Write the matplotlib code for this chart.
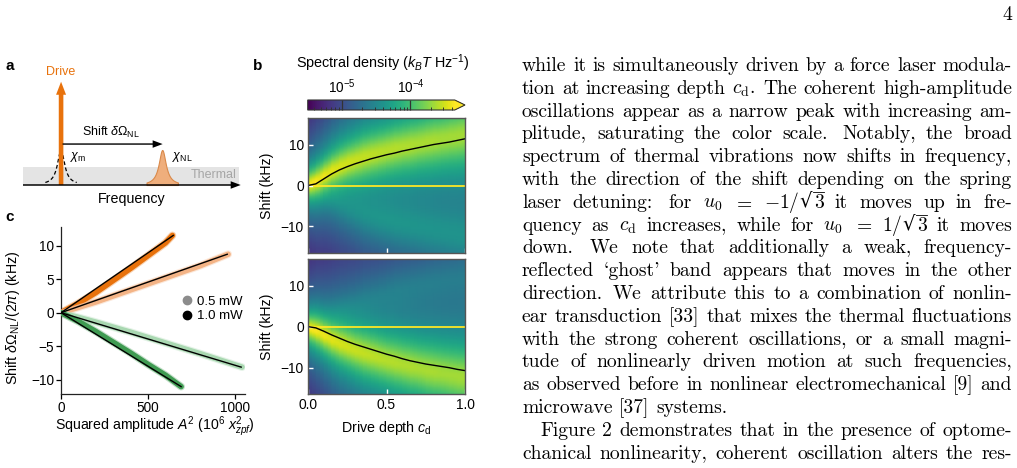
import numpy as np
import matplotlib
matplotlib.use("Agg")
import matplotlib.pyplot as plt
from matplotlib.colors import LogNorm
from matplotlib.lines import Line2D

W, H = 1017, 468
SANS = ["Liberation Sans", "DejaVu Sans"]
SERIF = ["cmr10", "DejaVu Serif"]

plt.rcParams["font.family"] = SANS
plt.rcParams["mathtext.fontset"] = "custom"
plt.rcParams["mathtext.rm"] = "Liberation Sans"
plt.rcParams["mathtext.it"] = "Liberation Sans:italic"
plt.rcParams["mathtext.bf"] = "Liberation Sans:bold"

ORANGE = "#E8720C"
LIGHT_ORANGE = "#F4B486"
GREEN = "#3F9B52"
LIGHT_GREEN = "#A9D8B1"

# ---- panel a: schematic (frequency units, peak height = 1)
DRIVE_FREQ = 1.76
NL_FREQ = 6.4
FREQ_END = 10.0
PEAK_HWHM = 0.2
PEAK_SPAN = 0.72
THERMAL_LEVEL = 0.52
THERMAL_END = 9.93
DRIVE_HEIGHT = 2.95
SHIFT_ARROW_Y = 1.17

# ---- panel b: spectral density maps vs drive depth
CD = [0.00, 0.05, 0.10, 0.15, 0.20, 0.25, 0.30, 0.35, 0.40, 0.45, 0.50,
      0.55, 0.60, 0.65, 0.70, 0.75, 0.80, 0.85, 0.90, 0.95, 1.00]
TRACK_UP = [0.0, 0.4, 1.6, 2.8, 3.8, 4.6, 5.3, 5.9, 6.5, 7.0, 7.5,
            7.9, 8.4, 8.8, 9.2, 9.6, 10.0, 10.3, 10.6, 11.0, 11.4]
TRACK_DOWN = [0.0, -0.3, -1.1, -2.0, -2.8, -3.6, -4.3, -4.9, -5.5, -6.1, -6.7,
              -7.2, -7.8, -8.3, -8.7, -9.1, -9.4, -9.7, -10.0, -10.4, -10.7]
BAND_UP = [0.3, 1.0, 2.3, 3.6, 4.6, 5.5, 6.2, 6.9, 7.5, 8.0, 8.5,
           9.0, 9.4, 9.8, 10.2, 10.6, 11.0, 11.3, 11.7, 12.0, 12.4]
BAND_DOWN = [-0.3, -0.9, -2.0, -3.1, -4.0, -4.8, -5.6, -6.3, -6.9, -7.5, -8.1,
             -8.6, -9.1, -9.6, -10.0, -10.5, -10.9, -11.2, -11.6, -12.0, -12.3]
PEAK_SD = [4.3e-4, 4.3e-4, 4.0e-4, 3.6e-4, 3.3e-4, 3.1e-4, 2.9e-4, 2.8e-4, 2.7e-4, 2.6e-4, 2.5e-4,
           2.5e-4, 2.4e-4, 2.4e-4, 2.3e-4, 2.3e-4, 2.3e-4, 2.2e-4, 2.2e-4, 2.2e-4, 2.2e-4]
HWHM = [1.6, 1.8, 2.0, 2.3, 2.6, 2.8, 3.0, 3.2, 3.3, 3.4, 3.5,
        3.6, 3.7, 3.8, 3.9, 4.0, 4.1, 4.2, 4.3, 4.4, 4.5]
GHOST_UP = [0.0, 0.2e-5, 0.6e-5, 1.0e-5, 1.4e-5, 1.8e-5, 2.1e-5, 2.4e-5, 2.6e-5, 2.8e-5, 2.9e-5,
            3.0e-5, 3.0e-5, 3.0e-5, 3.0e-5, 3.0e-5, 3.0e-5, 3.0e-5, 3.0e-5, 3.0e-5, 3.0e-5]
GHOST_DOWN = [0.0, 0.1e-5, 0.3e-5, 0.5e-5, 0.7e-5, 0.9e-5, 1.0e-5, 1.1e-5, 1.2e-5, 1.3e-5, 1.4e-5,
              1.5e-5, 1.5e-5, 1.5e-5, 1.5e-5, 1.5e-5, 1.5e-5, 1.5e-5, 1.5e-5, 1.5e-5, 1.5e-5]
BACKGROUND_SD = 3e-6
DRIVE_CD = [0.04, 1.0]
DRIVE_SHIFT = [0.0, 0.0]
SD_MIN, SD_MAX = 3.2e-6, 4.4e-4

# ---- panel c: nonlinear shift vs squared amplitude
A2_RED_HI = [0, 100, 200, 300, 400, 500, 600, 640]
SHIFT_RED_HI = [0, 1.4, 3.0, 4.8, 6.6, 8.5, 10.4, 11.5]
A2_RED_LO = [0, 100, 200, 400, 600, 800, 960]
SHIFT_RED_LO = [0, 0.8, 1.6, 3.4, 5.2, 7.0, 8.7]
A2_BLUE_LO = [0, 100, 200, 400, 600, 800, 1040]
SHIFT_BLUE_LO = [0, -0.7, -1.4, -2.9, -4.5, -6.1, -8.1]
A2_BLUE_HI = [0, 100, 200, 300, 400, 500, 600, 690]
SHIFT_BLUE_HI = [0, -1.3, -2.8, -4.4, -6.0, -7.7, -9.3, -11.0]
FIT_END_A2 = [645, 955, 1035, 690]
FIT_END_SHIFT = [11.5, 8.7, -8.1, -11.0]

# page text; "SQRT" marks a radical drawn by hand over the following digit
TEXT_LINES = [
    "while it is simultaneously driven by a force laser modula-",
    r"tion at increasing depth $c_\mathrm{d}$. The coherent high-amplitude",
    "oscillations appear as a narrow peak with increasing am-",
    "plitude, saturating the color scale. Notably, the broad",
    "spectrum of thermal vibrations now shifts in frequency,",
    "with the direction of the shift depending on the spring",
    r"laser detuning: for $u_0$ $=$ $-1/$SQRT3 it moves up in fre-",
    r"quency as $c_\mathrm{d}$ increases, while for $u_0$ $=$ $1/$SQRT3 it moves",
    "down. We note that additionally a weak, frequency-",
    "reflected `ghost' band appears that moves in the other",
    "direction. We attribute this to a combination of nonlin-",
    "ear transduction [33] that mixes the thermal fluctuations",
    "with the strong coherent oscillations, or a small magni-",
    "tude of nonlinearly driven motion at such frequencies,",
    "as observed before in nonlinear electromechanical [9] and",
    "microwave [37] systems.",
    "Figure 2 demonstrates that in the presence of optome-",
    "chanical nonlinearity, coherent oscillation alters the res-",
]
RAGGED = {15}
INDENT = {16: 18}


def fx(px):
    return px / W


def fy(py):
    return 1 - py / H


def box(left, top, right, bottom):
    return [fx(left), fy(bottom), (right - left) / W, (bottom - top) / H]


fig = plt.figure(figsize=(W / 100, H / 100), dpi=100)

for lab, x, y in [("a", 10, 66), ("b", 258, 66), ("c", 10, 217)]:
    fig.text(fx(x), fy(y), lab, fontsize=11, weight="bold", va="center", ha="center")

# ---------------- panel a
ax_a = fig.add_axes(box(22.7, 60, 245, 205))
ax_a.set_xlim(0, (245 - 22.7) / 21.8)
ax_a.set_ylim(-20 / 35, 125 / 35)
ax_a.axis("off")

ax_a.fill_between([0, THERMAL_END], 0, THERMAL_LEVEL, color="#E4E4E4", lw=0, zorder=1)
f_m = np.linspace(DRIVE_FREQ - PEAK_SPAN, DRIVE_FREQ + PEAK_SPAN, 200)
ax_a.plot(f_m, 1 / (1 + ((f_m - DRIVE_FREQ) / PEAK_HWHM) ** 2), "k--", lw=0.9,
          dashes=(3, 2), zorder=2)
f_nl = np.linspace(NL_FREQ - PEAK_SPAN, NL_FREQ + PEAK_SPAN, 200)
chi_nl = 1 / (1 + ((f_nl - NL_FREQ) / PEAK_HWHM) ** 2)
ax_a.fill_between(f_nl, 0, chi_nl, facecolor="#EFAE7C", edgecolor="#D9894A", lw=0.8, zorder=2)
ax_a.arrow(DRIVE_FREQ, 0, 0, DRIVE_HEIGHT, width=4.6 / 21.8, head_width=10 / 21.8,
           head_length=13 / 35, length_includes_head=True, color=ORANGE, lw=0, zorder=3)
ax_a.arrow(DRIVE_FREQ + 0.07, SHIFT_ARROW_Y, NL_FREQ - DRIVE_FREQ - 0.05, 0, width=1.4 / 35,
           head_width=7.5 / 35, head_length=10 / 21.8, length_includes_head=True,
           color="k", lw=0, zorder=3)
ax_a.arrow(0, 0, FREQ_END, 0, width=1.5 / 35, head_width=7.5 / 35, head_length=10 / 21.8,
           length_includes_head=True, color="k", lw=0, zorder=4)
ax_a.text(DRIVE_FREQ, 3.24, "Drive", color=ORANGE, fontsize=9, ha="center", va="center")
ax_a.text(4.05, 1.5, r"Shift $\delta\Omega_\mathrm{NL}$", fontsize=9, ha="center", va="center")
ax_a.text(2.15, 0.81, r"$\chi_\mathrm{m}$", fontsize=9, ha="left", va="center")
ax_a.text(6.83, 0.81, r"$\chi_\mathrm{NL}$", fontsize=9, ha="left", va="center")
ax_a.text(9.8, 0.29, "Thermal", color="#A6A6A6", fontsize=9, ha="right", va="center")
ax_a.text(5.0, -0.41, "Frequency", fontsize=10.3, ha="center", va="center")

# ---------------- panel b
shift_grid = np.linspace(-16.5, 16.5, 133)


def spectral_map(band, peak, hwhm, ghost):
    y = shift_grid[:, None]
    band = np.asarray(band)[None, :]
    peak = np.asarray(peak)[None, :]
    hwhm = np.asarray(hwhm)[None, :]
    ghost = np.asarray(ghost)[None, :]
    main = peak / (1 + ((y - band) / hwhm) ** 2)
    mirror = ghost / (1 + ((y + band) / (1.4 * hwhm)) ** 2)
    return BACKGROUND_SD + main + mirror


norm = LogNorm(SD_MIN, SD_MAX)
ax_b1 = fig.add_axes(box(308, 118.3, 465, 252.7))
ax_b2 = fig.add_axes(box(308, 259.3, 465, 394))
maps = [(ax_b1, BAND_UP, GHOST_UP, TRACK_UP), (ax_b2, BAND_DOWN, GHOST_DOWN, TRACK_DOWN)]
for ax, band, ghost, track in maps:
    mesh = ax.pcolormesh(CD, shift_grid, spectral_map(band, PEAK_SD, HWHM, ghost),
                         cmap="viridis", norm=norm, shading="gouraud", rasterized=True)
    ax.plot(DRIVE_CD, DRIVE_SHIFT, color="#FDE725", lw=1.3)
    ax.plot(CD, track, color="k", lw=1.0)
    ax.set_xlim(0, 1)
    ax.set_ylim(-16.4, 16.4)
    ax.set_xticks([0, 0.5, 1.0])
    ax.set_xticklabels(["0.0", "0.5", "1.0"])
    ax.set_yticks([-10, 0, 10])
    ax.tick_params(direction="in", color="white", length=3.5, width=1.0,
                   labelsize=9.9, pad=3)
    for s in ax.spines.values():
        s.set_color("#555555")
        s.set_linewidth(1.0)
ax_b1.tick_params(labelbottom=False)
fig.text(fx(267), fy(185.5), "Shift (kHz)", rotation=90, fontsize=10.2, ha="center", va="center")
fig.text(fx(267), fy(326.5), "Shift (kHz)", rotation=90, fontsize=10.2, ha="center", va="center")
fig.text(fx(386), fy(428), r"Drive depth $c_\mathrm{d}$", fontsize=10.3, ha="center", va="center")

cax = fig.add_axes(box(307.7, 100, 465, 110))
cb = fig.colorbar(mesh, cax=cax, orientation="horizontal", extend="max", extendfrac=0.07)
cb.outline.set_edgecolor("#333333")
cb.outline.set_linewidth(0.8)
cax.tick_params(which="major", direction="in", length=7.2, width=0.9, color="#333333",
                top=True, bottom=False, labeltop=True, labelbottom=False, labelsize=9.8, pad=3)
cax.tick_params(which="minor", direction="in", length=2.2, width=0.7, color="#333333",
                top=False, bottom=True)
fig.text(fx(383), fy(63), r"Spectral density ($k_B T$ Hz$^{-1}$)", fontsize=10.4,
         ha="center", va="center")

# ---------------- panel c
ax_c = fig.add_axes(box(61, 226.7, 245, 394))
series = [
    (A2_RED_HI, SHIFT_RED_HI, ORANGE),
    (A2_RED_LO, SHIFT_RED_LO, LIGHT_ORANGE),
    (A2_BLUE_LO, SHIFT_BLUE_LO, LIGHT_GREEN),
    (A2_BLUE_HI, SHIFT_BLUE_HI, GREEN),
]
for x, y, c in series:
    ax_c.plot(x, y, color=c, lw=5.6, alpha=0.3, solid_capstyle="round", zorder=2)
    ax_c.plot(x, y, color=c, lw=4.0, solid_capstyle="round", zorder=3)
for xe, ye in zip(FIT_END_A2, FIT_END_SHIFT):
    ax_c.plot([0, xe], [0, ye], color="k", lw=1.0, zorder=4)
ax_c.set_xlim(0, 1057)
ax_c.set_ylim(-12.1, 12.8)
ax_c.set_xticks([0, 500, 1000])
ax_c.set_yticks([-10, -5, 0, 5, 10])
ax_c.spines[["top", "right"]].set_visible(False)
for s in ax_c.spines.values():
    s.set_linewidth(0.9)
    s.set_color("#222222")
ax_c.tick_params(direction="out", length=3.5, width=0.9, labelsize=9.8, pad=1.5)
handles = [
    Line2D([], [], marker="o", ls="", color="#8C8C8C", ms=6, label="0.5 mW"),
    Line2D([], [], marker="o", ls="", color="k", ms=6, label="1.0 mW"),
]
ax_c.legend(handles=handles, frameon=False, loc="center left", fontsize=9.5,
            bbox_to_anchor=(fx(182), fy(309)), bbox_transform=fig.transFigure,
            handlelength=0.8, handletextpad=0.35, labelspacing=0.15, borderpad=0,
            borderaxespad=0)
fig.text(fx(13), fy(318), r"Shift $\delta\Omega_\mathrm{NL}/(2\pi)$ (kHz)", rotation=90,
         fontsize=10.3, ha="center", va="center")
fig.text(fx(155), fy(426.5), r"Squared amplitude $A^2$ ($10^6$ $x^2_{zpf}$)", fontsize=10.2,
         ha="center", va="center")

# ---------------- page text, justified by hand
renderer = fig.canvas.get_renderer()
TEXT_SIZE = 14.1
COL_LEFT, COL_RIGHT = 522, 1012
BASE0, LEAD = 71.0, 22.8
space = 0.333 * TEXT_SIZE * 100 / 72
RADICAL = "$\u221a$"


def pieces(tok):
    # split a token into (text, math font, overlined) pieces
    if "SQRT" not in tok:
        return [(tok, "cm", False)]
    head, digit = tok.split("SQRT")
    return [(head, "cm", False), (RADICAL, "dejavuserif", False), (digit, "cm", True)]


def make_text(s, math, x=0.5, y=0.5):
    return fig.text(x, y, s, fontsize=TEXT_SIZE, family=SERIF, math_fontfamily=math,
                    va="baseline", ha="left")


def piece_width(s, math):
    probe = make_text(s, math)
    w = probe.get_window_extent(renderer).width
    probe.remove()
    return w


def draw_token(tok, x, ybase):
    top = None
    for s, math, over in pieces(tok):
        t = make_text(s, math, fx(x), fy(ybase))
        bb = t.get_window_extent(renderer)
        if math == "dejavuserif":
            top = bb.y1
        if over and top is not None:
            fig.add_artist(Line2D([fx(x - 0.5), fx(x + bb.width + 0.5)],
                                  [top / H - 0.35 / H] * 2, color="k", lw=0.6))
        x += bb.width


for k, line in enumerate(TEXT_LINES):
    tokens = line.split()
    widths = [sum(piece_width(s, m) for s, m, _ in pieces(t)) for t in tokens]
    weights = [1.4 if t.endswith((".", ":")) else 1.0 for t in tokens[:-1]] + [0]
    left = COL_LEFT + INDENT.get(k, 0)
    if k in RAGGED:
        gap = space
    else:
        gap = (COL_RIGHT - left - sum(widths)) / sum(weights)
    x = left
    ybase = BASE0 + LEAD * k
    for t, w, g in zip(tokens, widths, weights):
        draw_token(t, x, ybase)
        x += w + g * gap

fig.text(fx(COL_RIGHT), fy(19.5), "4", fontsize=TEXT_SIZE, family=SERIF, ha="right",
         va="baseline")

fig.savefig("out.png", dpi=100)
